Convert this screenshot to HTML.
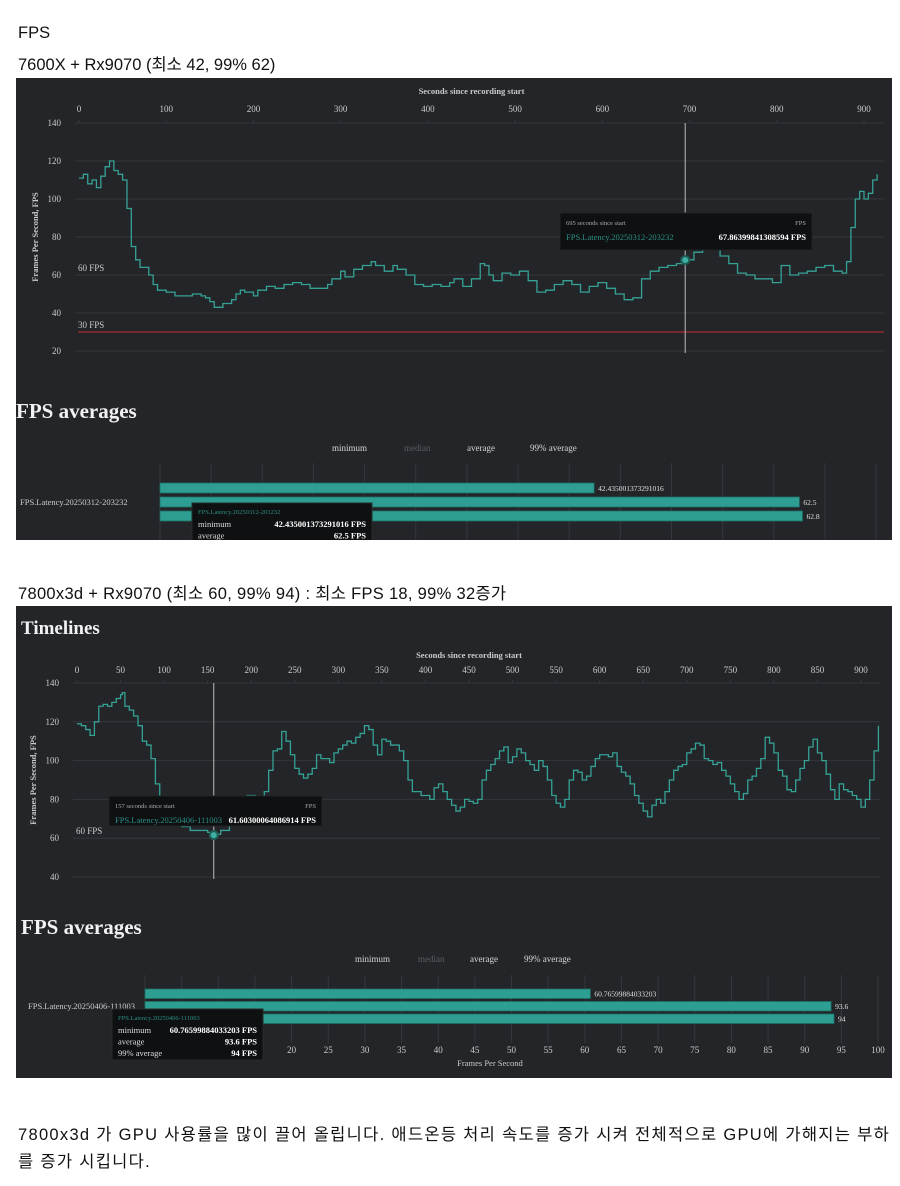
<!DOCTYPE html>
<html><head><meta charset="utf-8">
<style>
html,body{margin:0;padding:0;background:#fff;width:900px;height:1186px;overflow:hidden;position:relative}
.t{position:absolute;left:18px;font-family:"Liberation Sans","Noto Sans CJK KR",sans-serif;font-size:16.5px;color:#111;white-space:nowrap}
svg{position:absolute;left:0;top:0}
svg text{font-family:"Liberation Serif","DejaVu Serif",serif}
</style></head>
<body>
<div class="t" style="top:24px">FPS</div>
<div class="t" style="top:51px">7600X + Rx9070 (최소 42, 99% 62)</div>
<div class="t" style="top:580px;letter-spacing:0.3px">7800x3d + Rx9070 (최소 60, 99% 94) : 최소 FPS 18, 99% 32증가</div>
<div class="t" style="top:1121px;letter-spacing:1.3px">7800x3d 가 GPU 사용률을 많이 끌어 올립니다. 애드온등 처리 속도를 증가 시켜 전체적으로 GPU에 가해지는 부하</div>
<div class="t" style="top:1148px;letter-spacing:1.3px">를 증가 시킵니다.</div>
<svg id="svg" width="900" height="1186"></svg>
<script>
// Chart 1 data
const t1Seconds=[0,5,10,15,20,25,30,35,40,45,50,55,60,65,70,80,85,90,100,110,120,130,140,145,150,155,165,175,180,185,190,200,205,215,225,235,245,255,265,275,285,290,300,305,315,325,335,340,350,360,365,375,385,395,405,415,425,430,440,450,460,465,470,475,485,495,505,515,525,535,545,555,565,575,585,595,605,615,625,635,645,655,665,675,685,695,705,715,725,735,745,755,765,775,785,795,805,815,825,835,845,855,865,875,880,885,890,895,900,905,910,915];
const t1Fps=[111,113,108,110,106,112,117,120,115,113,110,95,75,68,64,60,55,52,51,49,49,50,49,48,46,43,45,47,50,52,51,49,52,54,53,55,56,55,53,53,55,58,62,59,63,65,67,65,62,65,63,60,55,54,55,54,56,58,54,58,66,65,60,57,61,60,62,57,51,52,55,57,55,51,54,56,53,50,47,48,58,62,64,65,66,68,72,76,74,70,66,61,60,58,58,56,65,60,61,62,64,65,62,61,67,85,100,104,100,103,110,113];
const t1XTicks=[0,100,200,300,400,500,600,700,800,900];
const t1YTicks=[140,120,100,80,60,40,20];
const bar1Cats=["minimum","average","99% average"];
const bar1Vals=[42.435001373291016,62.5,62.8];
const bar1Labels=["42.435001373291016","62.5","62.8"];
// Chart 2 data
const t2Seconds=[0,5,10,15,20,25,30,35,40,45,50,52,55,60,65,70,75,80,85,90,95,100,110,120,130,140,150,157,165,175,185,195,205,215,220,225,230,235,240,245,250,255,260,265,270,275,280,290,295,300,305,310,315,320,325,330,335,340,345,350,355,360,365,370,375,380,385,395,405,410,415,420,425,430,435,440,445,450,455,460,465,470,475,480,485,490,495,500,505,510,515,520,525,530,535,540,545,550,555,560,565,570,575,580,585,590,595,600,605,610,615,620,625,630,635,640,645,650,655,660,665,670,675,680,685,690,695,700,705,710,715,720,725,730,735,740,745,750,755,760,765,770,775,780,785,790,795,800,805,810,815,820,825,830,835,840,845,850,855,860,865,870,875,880,885,890,895,900,905,910,915,920];
const t2Fps=[119,118,116,113,120,128,129,128,130,132,134,135,128,126,123,118,110,108,101,88,80,72,68,66,64,64,63,62,64,70,76,82,80,84,95,105,106,115,110,103,96,93,91,93,96,103,101,99,104,106,108,110,109,112,114,118,116,108,103,111,110,108,108,105,100,90,84,82,80,86,88,84,80,77,74,76,80,79,78,80,90,95,98,101,105,107,99,102,106,104,100,98,95,100,97,90,82,78,76,80,90,95,94,90,92,97,101,103,103,102,104,97,94,92,88,82,78,74,71,77,80,78,84,90,95,97,98,104,106,109,108,101,100,98,99,95,92,88,84,80,83,90,92,96,101,112,109,104,95,92,85,84,90,96,100,107,111,104,100,93,85,80,88,85,84,82,80,76,80,90,105,118];
const t2XTicks=[0,50,100,150,200,250,300,350,400,450,500,550,600,650,700,750,800,850,900];
const t2YTicks=[140,120,100,80,60,40];
const bar2Cats=["minimum","average","99% average"];
const bar2Vals=[60.76599884033203,93.6,94];
const bar2Labels=["60.76599884033203","93.6","94"];
const bar2XTicks=[0,5,10,15,20,25,30,35,40,45,50,55,60,65,70,75,80,85,90,95,100];

const NS="http://www.w3.org/2000/svg";
const svg=document.getElementById('svg');
function mk(tag,attrs,parent,text){const e=document.createElementNS(NS,tag);for(const k in attrs)e.setAttribute(k,attrs[k]);if(text!==undefined)e.textContent=text;(parent||svg).appendChild(e);return e;}
const BG="#232529",GRID="#34373c",TEAL="#2f9e92",LBL="#c9cbcd";

function panel(y,h,name){const g=mk('g',{});mk('rect',{x:16,y:y,width:876,height:h,fill:BG},g);return g;}

function timeline(o){
  const g=o.g;
  const X=s=>o.x0+(s-0)*(o.x1-o.x0)/900;
  const Y=v=>o.y0+(o.vTop-v)*(o.y1-o.y0)/(o.vTop-o.vBot);
  const at=mk('text',{x:(o.x0+o.x1)/2,y:o.axisTitleY,fill:LBL,'font-size':8.5,'text-anchor':'middle','font-weight':'bold'},g,'Seconds since recording start');
  
  o.xTicks.forEach(t=>{const tx=mk('text',{x:X(t),y:o.tickY,fill:LBL,'font-size':9,'text-anchor':'middle'},g,String(t));
    
    mk('line',{x1:X(t),x2:X(t),y1:o.y0-3,y2:o.y0,stroke:GRID},g);});
  o.yTicks.forEach(t=>{const ln=mk('line',{x1:o.x0-4,x2:o.xEnd,y1:Y(t),y2:Y(t),stroke:GRID,'stroke-width':1},g);
    
    const tx=mk('text',{x:o.x0-18,y:Y(t)+3,fill:LBL,'font-size':9,'text-anchor':'end'},g,String(t));
    });
  const yt=mk('text',{x:0,y:0,fill:LBL,'font-size':8.5,'font-weight':'bold','text-anchor':'middle',transform:`translate(${o.x0-41},${(o.y0+o.y1)/2}) rotate(-90)`,'font-family':'Liberation Sans'},g,'Frames Per Second, FPS');
  
  const f60=mk('text',{x:o.x0-1,y:Y(60)-4,fill:LBL,'font-size':9},g,'60 FPS');
  
  if(o.show30){const rl=mk('line',{x1:o.x0-1,x2:o.xEnd,y1:Y(30),y2:Y(30),stroke:'#a52a2a','stroke-width':1.2},g);
    
    const f30=mk('text',{x:o.x0-1,y:Y(30)-4,fill:LBL,'font-size':9},g,'30 FPS');
    }
  let d='';o.sx.forEach((s,i)=>{const px=X(s),py=Y(o.sy[i]);if(i===0)d+=`M${px},${py}`;else d+=`H${px}V${py}`;});
  const p=mk('path',{d:d,fill:'none',stroke:'#35a295','stroke-width':1.3},g);
  
  const cx=X(o.cursorS);
  const cl=mk('line',{x1:cx,x2:cx,y1:o.y0,y2:o.y1+2,stroke:'#bdbdbd','stroke-width':1},g);
  
  const dot=mk('circle',{cx:cx,cy:Y(o.cursorV),r:4,fill:'#3fb0a2',stroke:'#1f5f58','stroke-width':2},g);
  
  const tg=mk('g',{},g);
  const tt=o.tip;
  mk('rect',{x:tt.x,y:tt.y,width:tt.w,height:tt.h,fill:'#0f1012',stroke:'#222','stroke-width':1},tg);
  mk('text',{x:tt.x+6,y:tt.y+12,fill:'#aaa','font-size':6.5},tg,tt.head);
  mk('text',{x:tt.x+tt.w-6,y:tt.y+12,fill:'#aaa','font-size':6.5,'text-anchor':'end'},tg,'FPS');
  mk('text',{x:tt.x+6,y:tt.y+27,fill:'#2a8f84','font-size':8.5},tg,tt.series);
  mk('text',{x:tt.x+tt.w-6,y:tt.y+27,fill:'#fff','font-size':8.5,'font-weight':'bold','text-anchor':'end'},tg,tt.val);
}

function bars(o){
  const g=o.g;
  const X=v=>o.x0+v*o.ppu;
  const ttl=mk('text',{x:o.titleX,y:o.titleY,fill:'#f2f2f2','font-size':21,'font-weight':'bold'},g,'FPS averages');
  
  const leg=[['minimum','#d6d6d6'],['median','#5a5c60'],['average','#d6d6d6'],['99% average','#d6d6d6']];
  leg.forEach((l,i)=>{const t=mk('text',{x:o.legX[i],y:o.legY,fill:l[1],'font-size':9},g,l[0]);
    });
  o.xTicks.forEach(t=>{const ln=mk('line',{x1:X(t),x2:X(t),y1:o.gridTop,y2:o.gridBot,stroke:GRID},g);
    
    if(o.tickY){const tx=mk('text',{x:X(t),y:o.tickY,fill:LBL,'font-size':9,'text-anchor':'middle'},g,String(t));
      }});
  o.vals.forEach((v,i)=>{const y=o.barY+i*o.step;
    const r=mk('rect',{x:o.x0,y:y,width:X(v)-o.x0,height:o.bh,fill:TEAL,stroke:'#1d6e66','stroke-width':0.8},g);
    
    const lb=mk('text',{x:X(v)+4,y:y+o.bh-2,fill:'#e0e0e0','font-size':7.5},g,o.labels[i]);
    });
  const cl=mk('text',{x:o.catX,y:o.barY+o.step+o.bh-2,fill:LBL,'font-size':8.5},g,o.series);
  
  if(o.axisTitle){const at=mk('text',{x:o.axisTitle[0],y:o.axisTitle[1],fill:LBL,'font-size':8.5,'text-anchor':'middle'},g,'Frames Per Second');
    }
  const tg=mk('g',{},g);
  const tt=o.tip;
  mk('rect',{x:tt.x,y:tt.y,width:tt.w,height:tt.h,fill:'#0f1012',stroke:'#2a2a2a'},tg);
  mk('text',{x:tt.x+6,y:tt.y+11,fill:'#2a8f84','font-size':6.5},tg,o.series);
  tt.rows.forEach((r,i)=>{mk('text',{x:tt.x+6,y:tt.y+24+i*11.5,fill:'#ddd','font-size':8.5},tg,r[0]);
    mk('text',{x:tt.x+tt.w-6,y:tt.y+24+i*11.5,fill:'#fff','font-size':8.5,'font-weight':'bold','text-anchor':'end'},tg,r[1]);});
}

// ---------- Panel 1 ----------
const g1=panel(78,462,'fps-panel-7600x');
const cp1=mk('clipPath',{id:'c1'});mk('rect',{x:16,y:78,width:876,height:462},cp1);
g1.setAttribute('clip-path','url(#c1)');
timeline({g:g1,x0:79,x1:864,xEnd:884,y0:123,y1:351,vTop:140,vBot:20,axisTitleY:94,tickY:112,
  xTicks:t1XTicks,yTicks:t1YTicks,sx:t1Seconds,sy:t1Fps,show30:true,cursorS:695,cursorV:67.86,
  tip:{x:560,y:213,w:252,h:37,head:'695 seconds since start',series:'FPS.Latency.20250312-203232',val:'67.86399841308594 FPS'}});
bars({g:g1,x0:160,ppu:10.23,titleX:16,titleY:418,legX:[332,404,467,530],legY:451,xTicks:[0,5,10,15,20,25,30,35,40,45,50,55,60,65,70],
  gridTop:463,gridBot:540,cats:bar1Cats,vals:bar1Vals,labels:bar1Labels,barY:483,step:14,bh:10,catX:20,
  series:'FPS.Latency.20250312-203232',
  tip:{x:192,y:503,w:180,h:45,rows:[['minimum','42.435001373291016 FPS'],['average','62.5 FPS']]}});

// ---------- Panel 2 ----------
const g2=panel(606,472,'fps-panel-7800x3d');
const tl=mk('text',{x:21,y:634,fill:'#f2f2f2','font-size':19,'font-weight':'bold'},g2,'Timelines');

timeline({g:g2,x0:77,x1:861,xEnd:880,y0:683,y1:877,vTop:140,vBot:40,axisTitleY:658,tickY:673,
  xTicks:t2XTicks,yTicks:t2YTicks,sx:t2Seconds,sy:t2Fps,show30:false,cursorS:157,cursorV:61.6,
  tip:{x:109,y:796,w:213,h:30,head:'157 seconds since start',series:'FPS.Latency.20250406-111003',val:'61.60300064086914 FPS'}});
bars({g:g2,x0:145,ppu:7.33,titleX:21,titleY:934,legX:[355,418,470,524],legY:962,xTicks:bar2XTicks,
  gridTop:975,gridBot:1043,tickY:1053,axisTitle:[490,1066],cats:bar2Cats,vals:bar2Vals,labels:bar2Labels,barY:989,step:12.5,bh:9.5,catX:28,
  series:'FPS.Latency.20250406-111003',
  tip:{x:112,y:1009,w:151,h:51,rows:[['minimum','60.76599884033203 FPS'],['average','93.6 FPS'],['99% average','94 FPS']]}});
</script>
</body></html>
